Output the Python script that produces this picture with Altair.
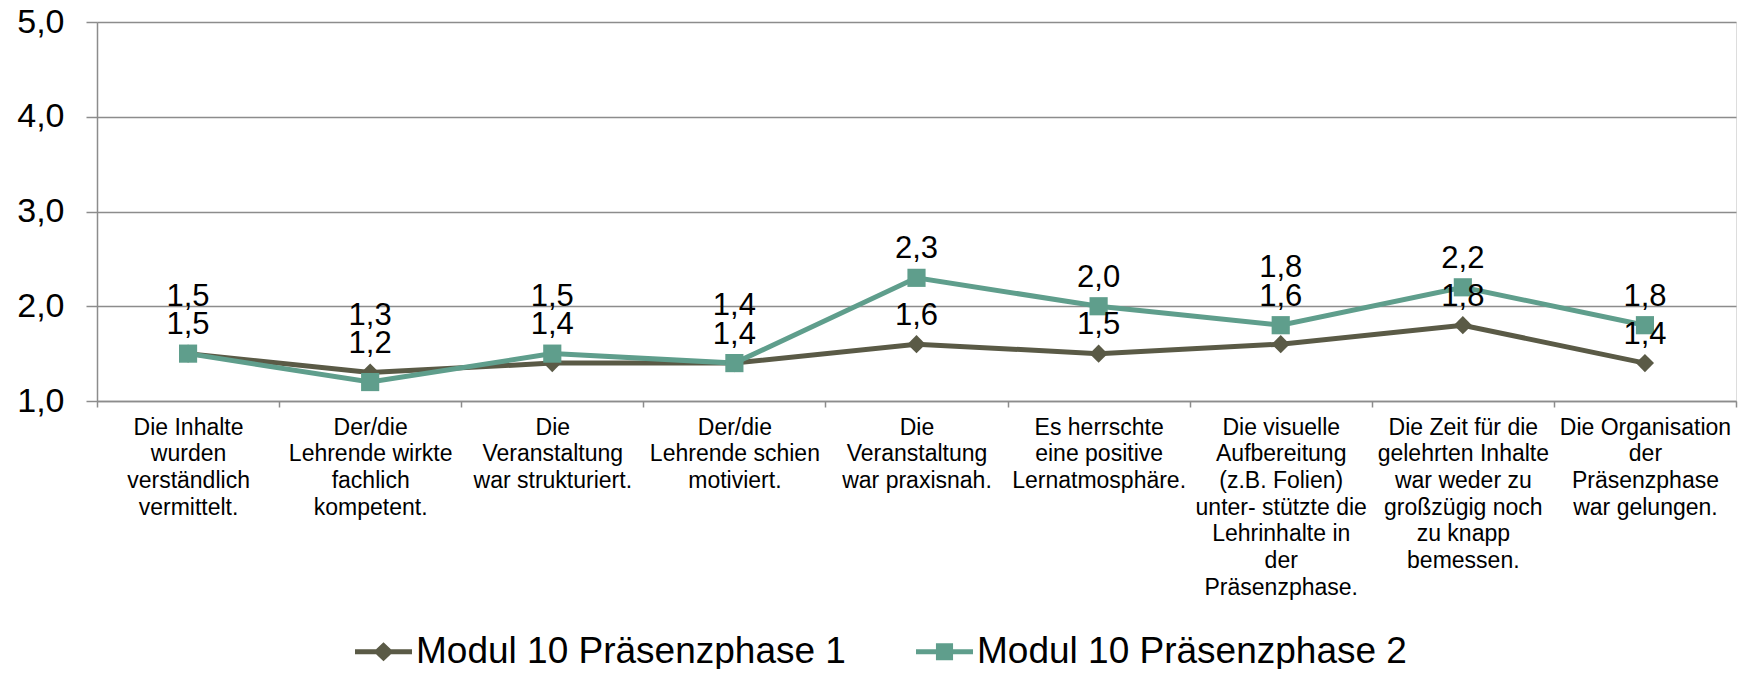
import altair as alt
import pandas as pd

# ---------------- data ----------------
categories = [
    ["Die Inhalte", "wurden", "verständlich", "vermittelt."],
    ["Der/die", "Lehrende wirkte", "fachlich", "kompetent."],
    ["Die", "Veranstaltung", "war strukturiert."],
    ["Der/die", "Lehrende schien", "motiviert."],
    ["Die", "Veranstaltung", "war praxisnah."],
    ["Es herrschte", "eine positive", "Lernatmosphäre."],
    ["Die visuelle", "Aufbereitung", "(z.B. Folien)", "unter- stützte die",
     "Lehrinhalte in", "der", "Präsenzphase."],
    ["Die Zeit für die", "gelehrten Inhalte", "war weder zu", "großzügig noch",
     "zu knapp", "bemessen."],
    ["Die Organisation", "der", "Präsenzphase", "war gelungen."],
]
series_names = ["Modul 10 Präsenzphase 1", "Modul 10 Präsenzphase 2"]
phase1 = [1.5, 1.3, 1.4, 1.4, 1.6, 1.5, 1.6, 1.8, 1.4]
phase2 = [1.5, 1.2, 1.5, 1.4, 2.3, 2.0, 1.8, 2.2, 1.8]
y_ticks = [1, 2, 3, 4, 5]

colors = ["#5a5a46", "#5f9e8c"]
FONT = "Liberation Sans"

cat_keys = ["|".join(c) for c in categories]
rows = []
for si, (name, vals, other) in enumerate(
        [(series_names[0], phase1, phase2), (series_names[1], phase2, phase1)]):
    for k, v, o in zip(cat_keys, vals, other):
        rows.append({"cat": k, "series": name, "sidx": si, "value": v, "other": o})
df = pd.DataFrame(rows)

# legend symbols: line with diamond / line with square
path_diamond = ("M-1,-0.09L-0.26,-0.09L0,-0.33L0.26,-0.09L1,-0.09L1,0.09"
                "L0.26,0.09L0,0.33L-0.26,0.09L-1,0.09Z")
path_square = ("M-1,-0.09L-0.3,-0.09L-0.3,-0.3L0.3,-0.3L0.3,-0.09L1,-0.09"
               "L1,0.09L0.3,0.09L0.3,0.3L-0.3,0.3L-0.3,0.09L-1,0.09Z")

x_enc = alt.X(
    "cat:N", sort=cat_keys, title=None,
    scale=alt.Scale(type="band", paddingInner=0, paddingOuter=0),
    axis=alt.Axis(
        labelExpr="split(datum.label, '|')", labelAngle=0, labelFontSize=23,
        labelLineHeight=26.7, labelFont=FONT, labelColor="black", labelLimit=0,
        labelPadding=9, labelBaseline="top", tickBand="extent", tickSize=6,
        tickColor="#8c8c8c", tickWidth=1.5, domainColor="#8c8c8c", domainWidth=1.5,
        grid=False,
    ),
)
y_scale = alt.Scale(domain=[1, 5], nice=False, zero=False)
y_enc = alt.Y(
    "value:Q", scale=y_scale, title=None,
    axis=alt.Axis(
        values=y_ticks, labelExpr="replace(format(datum.value, '.1f'), '.', ',')",
        labelFontSize=34, labelFont=FONT, labelColor="black", labelPadding=22,
        tickSize=11, tickColor="#8c8c8c", tickWidth=1.5, domainColor="#8c8c8c",
        domainWidth=1.5, grid=True, gridColor="#8c8c8c", gridWidth=1.5,
    ),
)
color_scale = alt.Scale(domain=series_names, range=colors)

base = alt.Chart(df)

lines = base.mark_line(strokeWidth=5).encode(
    x=x_enc, y=y_enc,
    color=alt.Color("series:N", scale=color_scale, legend=None),
    detail="series:N",
)

points = base.mark_point(filled=True, opacity=1).encode(
    x=x_enc, y=y_enc,
    color=alt.Color("series:N", scale=color_scale, legend=None),
    shape=alt.Shape("series:N", scale=alt.Scale(domain=series_names,
                                                range=["diamond", "square"]),
                    legend=None),
    size=alt.Size("series:N", scale=alt.Scale(domain=series_names, range=[330, 330]),
                  legend=None),
)

legend_props = dict(
    orient="none", legendX=258, legendY=601, direction="horizontal", title=None,
    labelFontSize=37, labelFont=FONT, labelColor="black", labelOffset=4,
    columnPadding=70, symbolSize=3249, symbolStrokeWidth=0, symbolOpacity=1,
    padding=0, labelLimit=0,
)
legend_proxy = base.mark_point(filled=True, opacity=0).encode(
    x=x_enc, y=y_enc,
    color=alt.Color("series:N", scale=color_scale, legend=alt.Legend(**legend_props)),
    shape=alt.Shape("series:N", scale=alt.Scale(domain=series_names,
                                                range=[path_diamond, path_square]),
                    legend=alt.Legend(**legend_props)),
)

labels = base.transform_calculate(
    top="max(datum.value, datum.other)",
    close="abs(datum.value - datum.other) <= 0.25",
    wins="datum.sidx == 0 ? datum.value >= datum.other : datum.value > datum.other",
).transform_calculate(
    label_y="datum.close ? (datum.wins ? datum.top + 0.6 : datum.top + 0.3) : datum.value + 0.3",
    label_txt="replace(format(datum.value, '.1f'), '.', ',')",
).mark_text(fontSize=31, font=FONT, color="black", baseline="middle").encode(
    x=x_enc,
    y=alt.Y("label_y:Q", scale=y_scale),
    text="label_txt:N",
)

chart = alt.layer(lines, points, legend_proxy, labels).resolve_scale(
    color="independent", shape="independent"
).properties(
    width=1639, height=379,
    autosize=alt.AutoSizeParams(type="none"),
    padding={"left": 89, "top": 14, "right": 8, "bottom": 268},
).configure_view(stroke=None).configure(background="white")

chart.save("out.html", embed_options={"renderer": "svg", "actions": False})
